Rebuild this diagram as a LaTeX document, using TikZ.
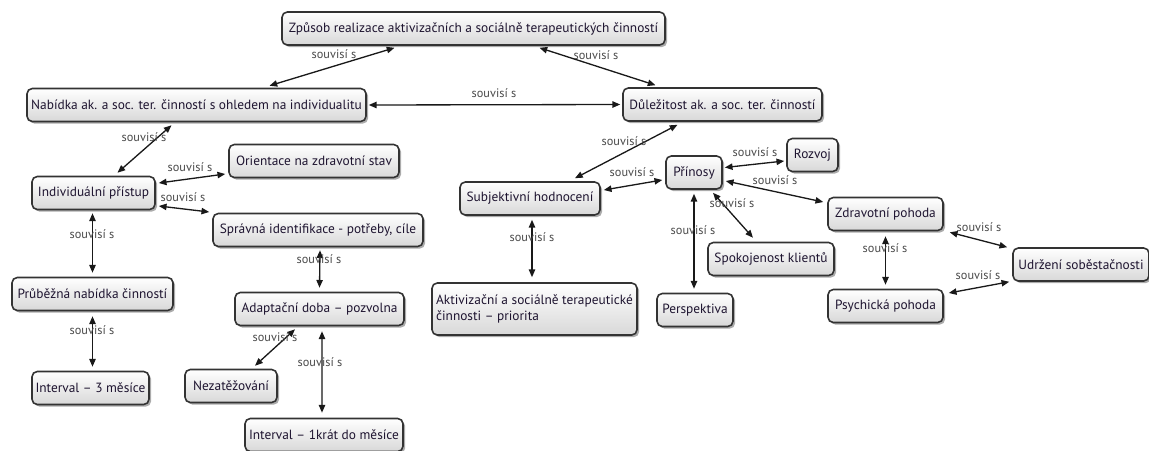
\documentclass[tikz,border=0pt]{standalone}
\usepackage{fontspec}
\setmainfont{PT Sans}
\usepackage{tikz}
\usetikzlibrary{arrows.meta, calc, shadows}
\definecolor{boxc}{HTML}{333333}
\definecolor{txtc}{HTML}{1E1430}
\definecolor{lblc}{HTML}{4A4A4A}
\definecolor{fillc}{HTML}{D8D8D8}
% concept box: name, centre, width (px), text
\newcommand{\concept}[4]{%
  \node[concept, minimum width=#3*0.02cm] (#1) at #2 {#4};
}
% link with its label: start, end, label position
\newcommand{\souvis}[3]{%
  \draw[link] #1 -- #2;
  \node[rel] at #3 {souvisí s};
}

\begin{document}
\begin{tikzpicture}[x=0.02cm, y=-0.02cm,
    concept/.style={draw=boxc, line width=0.9pt, rounded corners=3pt,
      top color=white, bottom color=fillc, text=txtc,
      font=\fontsize{7.6}{9}\selectfont, inner xsep=2pt,
      minimum height=0.66cm,
      drop shadow={shadow xshift=1.2pt, shadow yshift=-1.2pt,
        fill=black!55, opacity=0.6}},
    link/.style={{Triangle[length=4.4pt,width=3.6pt]}-{Triangle[length=4.4pt,width=3.6pt]},
      line width=0.75pt, black!90},
    rel/.style={text=lblc, font=\fontsize{7}{7}\selectfont, inner sep=0pt}]
  \useasboundingbox (0,0) rectangle (1149,450);

  \concept{zpusob}{(473.5,28.5)}{383}{Způsob realizace aktivizačních a sociálně terapeutických činností}
  \concept{nabidka}{(196.5,105)}{339}{Nabídka ak. a soc. ter. činností s ohledem na individualitu}
  \concept{dulezitost}{(722.5,104.5)}{199}{Důležitost ak. a soc. ter. činností}
  \concept{orientace}{(314,161)}{170}{Orientace na zdravotní stav}
  \concept{pristup}{(93.5,193)}{123}{Individuální přístup}
  \concept{identifikace}{(318,230)}{210}{Správná identifikace - potřeby, cíle}
  \concept{prubezna}{(92.5,294)}{161}{Průběžná nabídka činností}
  \concept{adaptace}{(319.5,309)}{169}{Adaptační doba – pozvolna}
  \concept{interval3}{(90.5,388)}{117}{Interval – 3 měsíce}
  \concept{nezatez}{(231,386)}{92}{Nezatěžování}
  \concept{interval1}{(324,435)}{158}{Interval – 1krát do měsíce}
  \concept{subjekt}{(530,198.5)}{140}{Subjektivní hodnocení}
  \concept{prinosy}{(694,172.5)}{56}{Přínosy}
  \node[concept, minimum width=205*0.02cm, minimum height=52*0.02cm, align=left]
    (priorita) at (534.5,309) {Aktivizační a sociálně terapeutické\\činnosti – priorita};
  \concept{perspektiva}{(695,310)}{76}{Perspektiva}
  \concept{spokojenost}{(771,259)}{126}{Spokojenost klientů}
  \concept{rozvoj}{(812.5,155)}{51}{Rozvoj}
  \concept{zdravotni}{(885.5,214)}{115}{Zdravotní pohoda}
  \concept{udrzeni}{(1081,264.5)}{136}{Udržení soběstačnosti}
  \concept{psychicka}{(885.5,306)}{115}{Psychická pohoda}

  \souvis{($(zpusob.south)+(-79,2)$)}{($(nabidka.north)+(73,-2)$)}{(334,54)}
  \souvis{($(zpusob.south)+(66,2)$)}{($(dulezitost.north)+(-67,-2)$)}{(596,55)}
  \souvis{($(nabidka.east)+(2,0)$)}{($(dulezitost.west)+(-2,0)$)}{(494,93)}
  \souvis{($(nabidka.south)+(-25,3)$)}{($(pristup.north)+(24,-3)$)}{(144,137)}
  \souvis{($(pristup.east)+(3,-10)$)}{($(orientace.west)+(-3,13)$)}{(190,167)}
  \souvis{($(pristup.east)+(3,13)$)}{($(identifikace.west)+(-3,-18)$)}{(183,197)}
  \souvis{($(pristup.south)+(-1,3)$)}{($(prubezna.north)+(0,-4)$)}{(92,234)}
  \souvis{($(prubezna.south)+(0,5)$)}{($(interval3.north)+(2,-4)$)}{(92,330)}
  \souvis{($(identifikace.south)+(2,3)$)}{($(adaptace.north)+(0,-4)$)}{(319,259)}
  \souvis{($(adaptace.south)+(-24.5,3)$)}{($(nezatez.north)+(24,-3)$)}{(275,337)}
  \souvis{($(adaptace.south)+(2.5,5)$)}{($(interval1.north)+(-2,-5)$)}{(320,362)}
  \souvis{($(dulezitost.south)+(-45,3)$)}{($(subjekt.north)+(45,-3)$)}{(624,141)}
  \souvis{($(subjekt.east)+(3,-8.5)$)}{($(prinosy.west)+(-3,7.5)$)}{(632,172)}
  \souvis{($(subjekt.south)+(2,4)$)}{($(priorita.north)+(-2.5,-5)$)}{(532,237)}
  \souvis{($(prinosy.south)+(0,4)$)}{($(perspektiva.north)+(-1,-4)$)}{(693,230)}
  \souvis{($(prinosy.south)+(19,3)$)}{($(spokojenost.north)+(-18,-4)$)}{(732,203)}
  \souvis{($(prinosy.east)+(2,-5)$)}{($(rozvoj.west)+(-2,6)$)}{(755,152)}
  \souvis{($(prinosy.east)+(3,8.5)$)}{($(zdravotni.west)+(-4,-12)$)}{(775,180)}
  \souvis{($(zdravotni.south east)+(6,1)$)}{($(udrzeni.north west)+(-5,0)$)}{(979,227)}
  \souvis{($(zdravotni.south)+(0,5)$)}{($(psychicka.north)+(0,-4)$)}{(885,248)}
  \souvis{($(psychicka.east)+(5,-13)$)}{($(udrzeni.south west)+(-3,0)$)}{(978,275)}
\end{tikzpicture}
\end{document}
